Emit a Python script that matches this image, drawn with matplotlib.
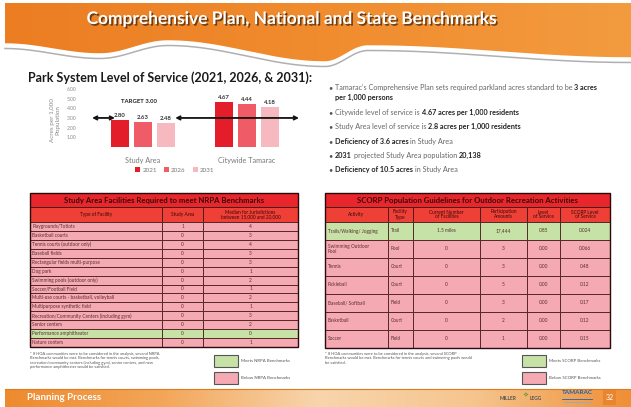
import numpy as np
import matplotlib
matplotlib.use('Agg')
import matplotlib.pyplot as plt
import matplotlib.patheffects as pe
from matplotlib.patches import Rectangle, Polygon
from matplotlib.colors import LinearSegmentedColormap

plt.rcParams['font.family'] = ['Lato', 'DejaVu Sans']

W, H = 631, 407

# ---- bar chart data
groups = ['Study Area', 'Citywide Tamarac']
years = ['2021', '2026', '2031']
acres_2021 = [2.80, 4.67]
acres_2026 = [2.63, 4.44]
acres_2031 = [2.48, 4.18]
target = 3.00
y_ticks = [1, 2, 3, 4, 5, 6]
bar_colors = ['#e41d2b', '#ef5c68', '#f7b9c0']

# ---- bullet text (text, bold)
bullets = [
    [("Tamarac's Comprehensive Plan sets required parkland acres standard to be", False), ("3 acres", True)],
    [("per 1,000 persons", True)],
    [("Citywide level of service is", False), ("4.67 acres per 1,000 residents", True)],
    [("Study Area level of service is", False), ("2.8 acres per 1,000 residents", True)],
    [("Deficiency of 3.6 acres", True), ("in Study Area", False)],
    [("2031", True), ("projected Study Area population", False), ("20,138", True)],
    [("Deficiency of 10.5 acres", True), ("in Study Area", False)],
]
bullet_y = [88, 98, 113, 127, 142, 156, 170]
bullet_dot = [True, False, True, True, True, True, True]

# ---- NRPA table
nrpa_title = 'Study Area Facilities Required to meet NRPA Benchmarks'
nrpa_header = ['Type of Facility', 'Study Area', 'Median for Jurisdictions\nbetween 15,000 and 20,000']
nrpa_facility = ['Playgrounds/Totlots', 'Basketball courts', 'Tennis courts (outdoor only)',
                 'Baseball fields', 'Rectangular fields multi-purpose', 'Dog park',
                 'Swimming pools (outdoor only)', 'Soccer/Football Field',
                 'Multi-use courts - basketball, volleyball', 'Multipurpose synthetic field',
                 'Recreation/Community Centers (including gym)', 'Senior centers',
                 'Performance amphitheater', 'Nature centers']
nrpa_study = ['1', '0', '0', '0', '0', '0', '0', '0', '0', '0', '0', '0', '0', '0']
nrpa_median = ['4', '3', '4', '3', '3', '1', '2', '1', '2', '1', '3', '2', '0', '1']
nrpa_meets = [False] * 12 + [True, False]

# ---- SCORP table
scorp_title = 'SCORP Population Guidelines for Outdoor Recreation Activities'
scorp_header = ['Activity', 'Facility\nType', 'Current Number\nof Facilities',
                'Participation\nAmounts', 'Level\nof Service', 'SCORP Level\nof Service']
scorp_activity = ['Trails/Walking/ Jogging', 'Swimming Outdoor\nPool', 'Tennis', 'Pickleball',
                  'Baseball/ Softball', 'Basketball', 'Soccer']
scorp_type = ['Trail', 'Pool', 'Court', 'Court', 'Field', 'Court', 'Field']
scorp_current = ['1.5 miles', '0', '0', '0', '0', '0', '0']
scorp_particip = ['17,444', '3', '3', '5', '3', '2', '1']
scorp_los = ['.085', '0.00', '0.00', '0.00', '0.00', '0.00', '0.00']
scorp_std = ['0.024', '0.066', '0.48', '0.12', '0.17', '0.12', '0.15']
scorp_meets = [True] + [False] * 6

PINK = '#f5a9b2'
GREEN = '#c6e2a6'
RED = '#e8262b'
RED2 = '#ee4036'
EDGE = '#4a1c1c'

fig = plt.figure(figsize=(W / 100, H / 100), dpi=100)
bg = fig.add_axes([0, 0, 1, 1])
bg.set_xlim(0, W)
bg.set_ylim(H, 0)
bg.axis('off')


def curve(xs, ys, n=400):
    # smooth cosine easing between the wave's turning points
    px, py = [], []
    for i in range(len(xs) - 1):
        t = np.linspace(0, 1, n // len(xs))
        s = (1 - np.cos(np.pi * t)) / 2
        px.extend(xs[i] + (xs[i + 1] - xs[i]) * t)
        py.extend(ys[i] + (ys[i + 1] - ys[i]) * s)
    return np.array(px), np.array(py)


# Header band with wave
wx, wy = curve([5, 100, 168, 325, 368, W], [44, 54, 41, 62, 46, 58])
poly = np.vstack([[5, 3], [W, 3], *np.column_stack([wx, wy])[::-1]])
head = Polygon(poly, closed=True, facecolor='none', edgecolor='none')
bg.add_patch(head)
grad = LinearSegmentedColormap.from_list('hd', ['#ec7d22', '#f08c2e', '#f39b3f'])
im = bg.imshow(np.linspace(0, 1, 256)[None, :], cmap=grad, aspect='auto',
               extent=(5, W, 70, 3), zorder=1)
im.set_clip_path(head)
bg.plot(wx, wy + 4.5, color='#b0b0b0', lw=1.1, zorder=2)
bg.plot(wx, wy + 1, color='white', lw=2.5, zorder=2)
bg.text(292, 19, 'Comprehensive Plan, National and State Benchmarks', fontsize=12.5,
        fontweight='bold', color='white', ha='center', va='center', zorder=3,
        path_effects=[pe.SimplePatchShadow(offset=(1.2, -1.2), shadow_rgbFace='#4a2a10', alpha=0.8),
                      pe.Normal()])

# Subtitle
bg.text(28, 78, 'Park System Level of Service (2021, 2026, & 2031):', fontsize=9,
        fontweight='bold', color='#1a1a1a', ha='left', va='center')

# ---- Bar chart
ax = fig.add_axes([82 / W, (H - 147) / H, 218 / W, 61 / H])
ax.set_facecolor('none')
x = np.arange(len(groups))
bw = 0.178
off = 0.221
for i, (vals, c, yr) in enumerate(zip([acres_2021, acres_2026, acres_2031], bar_colors, years)):
    pos = x + (i - 1) * off
    ax.bar(pos, vals, width=bw, color=c, label=yr, zorder=2)
    for p, v in zip(pos, vals):
        ax.text(p, v + 0.2, f'{v:.2f}', ha='center', va='bottom', fontsize=4.3,
                fontweight='bold', color='#333333')
ax.set_xlim(-0.587, 1.51)
ax.set_ylim(0, 6.3)
ax.set_yticks(y_ticks)
ax.set_yticklabels([f'{t:.2f}' for t in y_ticks])
ax.set_xticks(x)
ax.set_xticklabels(groups)
ax.tick_params(axis='y', length=0, labelsize=3.6, labelcolor='#8a8a8a', pad=4)
ax.tick_params(axis='x', length=0, labelsize=5.2, labelcolor='#777777', pad=7)
for s in ax.spines.values():
    s.set_visible(False)
arrow = dict(arrowstyle='<->', color='#111111', lw=1.3, mutation_scale=6, shrinkA=0, shrinkB=0)
ax.annotate('', xy=(-0.27, target), xytext=(-0.49, target), arrowprops=arrow)
ax.annotate('', xy=(1.50, target), xytext=(0.31, target), arrowprops=arrow)
ax.text(-0.04, 4.7, f'TARGET {target:.2f}', ha='center', va='center', fontsize=4.3,
        fontweight='bold', color='#222222')
fig.text(55 / W, 1 - 120 / H, 'Acres per 1,000\nPopulation', rotation=90, ha='center',
         va='center', fontsize=4.5, color='#8a8a8a', linespacing=1.1)
ax.legend(loc='center', bbox_to_anchor=(175 / W, 1 - 170 / H), bbox_transform=fig.transFigure,
          ncol=3, frameon=False, fontsize=4.5, handlelength=0.7, handleheight=0.7,
          columnspacing=1.2, handletextpad=0.4, labelcolor='#777777')

# ---- Bullets with mixed bold runs (shared baseline)
renderer = fig.canvas.get_renderer()
BFS = 5.2
probe = bg.text(0, 0, 'x x', fontsize=BFS)
probe2 = bg.text(0, 0, 'xx', fontsize=BFS)
space = probe.get_window_extent(renderer).width - probe2.get_window_extent(renderer).width
probe.remove()
probe2.remove()
for parts, yy, dot in zip(bullets, bullet_y, bullet_dot):
    if dot:
        bg.text(328, yy + 2, '•', fontsize=BFS, color='#555555', va='baseline', ha='left')
    xx = 335
    for txt, bold in parts:
        t = bg.text(xx, yy + 2, txt, fontsize=BFS, va='baseline', ha='left',
                    fontweight='bold' if bold else 'normal',
                    color='#222222' if bold else '#666666')
        xx += t.get_window_extent(renderer).width + space


# ---- Tables
def table(xe, top, title, header, cols, meets, aligns, row_h, head_h=15, title_h=14):
    x0, x1 = xe[0], xe[-1]
    bg.add_patch(Rectangle((x0, top), x1 - x0, title_h, facecolor=RED, edgecolor=EDGE, lw=0.7))
    bg.text((x0 + x1) / 2, top + title_h / 2, title, ha='center', va='center', fontsize=5.6,
            fontweight='bold', color='#3a0808')
    hy = top + title_h
    for j, h in enumerate(header):
        bg.add_patch(Rectangle((xe[j], hy), xe[j + 1] - xe[j], head_h, facecolor=RED2,
                               edgecolor=EDGE, lw=0.7))
        bg.text((xe[j] + xe[j + 1]) / 2, hy + head_h / 2, h, ha='center', va='center',
                fontsize=3.4, color='#3a0808', linespacing=1.0)
    ry = hy + head_h
    for i, ok in enumerate(meets):
        y0 = ry + i * row_h
        for j in range(len(cols)):
            bg.add_patch(Rectangle((xe[j], y0), xe[j + 1] - xe[j], row_h,
                                   facecolor=GREEN if ok else PINK, edgecolor=EDGE, lw=0.6))
            if aligns[j] == 'left':
                bg.text(xe[j] + 2.5, y0 + row_h / 2, cols[j][i], ha='left', va='center',
                        fontsize=3.4, color='#5a3030', linespacing=1.0)
            else:
                bg.text((xe[j] + xe[j + 1]) / 2, y0 + row_h / 2, cols[j][i], ha='center',
                        va='center', fontsize=3.4, color='#5a3030')
    bottom = ry + len(meets) * row_h
    bg.add_patch(Rectangle((x0, top), x1 - x0, bottom - top, facecolor='none',
                           edgecolor='#2a0a0a', lw=1.0))


table([30, 162, 203, 298], 193, nrpa_title, nrpa_header,
      [nrpa_facility, nrpa_study, nrpa_median], nrpa_meets,
      ['left', 'center', 'center'], row_h=125 / 14)
table([325, 388, 413, 480, 527, 560, 610], 193, scorp_title, scorp_header,
      [scorp_activity, scorp_type, scorp_current, scorp_particip, scorp_los, scorp_std],
      scorp_meets, ['left', 'left', 'center', 'center', 'center', 'center'], row_h=18)

# Footnotes
bg.text(30, 352, '* If HOA communities were to be considered in the analysis, several NRPA\n'
        'Benchmarks would be met. Benchmarks for tennis courts, swimming pools,\n'
        'recreation/community centers (including gym), senior centers, and new\n'
        'performance amphitheater would be satisfied.',
        fontsize=2.9, color='#555555', va='top', ha='left', linespacing=1.15)
bg.text(325, 352, '* If HOA communities were to be considered in the analysis, several SCORP\n'
        'Benchmarks would be met. Benchmarks for tennis courts and swimming pools would\n'
        'be satisfied.',
        fontsize=2.9, color='#555555', va='top', ha='left', linespacing=1.15)

# Legend boxes
for lx, name in [(214, 'NRPA'), (522, 'SCORP')]:
    bg.add_patch(Rectangle((lx, 355), 24, 12, facecolor=GREEN, edgecolor='#555555', lw=0.8))
    bg.add_patch(Rectangle((lx, 372), 24, 12, facecolor=PINK, edgecolor='#555555', lw=0.8))
    bg.text(lx + 27, 361, f'Meets {name} Benchmarks', fontsize=3.2, color='#555555', va='center')
    bg.text(lx + 27, 378, f'Below {name} Benchmarks', fontsize=3.2, color='#555555', va='center')

# Footer band
foot = LinearSegmentedColormap.from_list('ft', ['#ee8a2e', '#f3a659', '#f8d5ad', '#f6c58e', '#ef8f36'])
bg.imshow(np.linspace(0, 1, 256)[None, :], cmap=foot, aspect='auto', extent=(5, W, H, 389), zorder=1)
bg.plot([5, W], [389, 389], color='#e07a20', lw=0.8, zorder=2)
bg.text(27, 398, 'Planning Process', fontsize=7, fontweight='bold', color='white', va='center',
        zorder=3)
bg.text(500, 398, 'MILLER', fontsize=3.6, fontweight='bold', color='#555555', va='center', zorder=3)
bg.text(523, 394, '\u2727', fontsize=5, color='#5a9a3a', va='center', zorder=3)
bg.text(530, 398, 'LEGG', fontsize=3.6, fontweight='bold', color='#555555', va='center', zorder=3)
bg.text(577, 393, 'TAMARAC', fontsize=4.6, fontweight='bold', color='#2062b0', va='center',
        ha='center', zorder=3)
bg.plot([562, 592], [399, 399], color='#2062b0', lw=0.6, zorder=3)
bg.plot([564, 590], [401.5, 401.5], color='#7bb0de', lw=0.6, zorder=3)
bg.add_patch(Rectangle((603, 390), 13, 15, facecolor='#e9852c', edgecolor='none', zorder=3))
bg.text(609.5, 398, '32', fontsize=5, color='white', ha='center', va='center', zorder=4)

fig.savefig('out.png', dpi=100)
